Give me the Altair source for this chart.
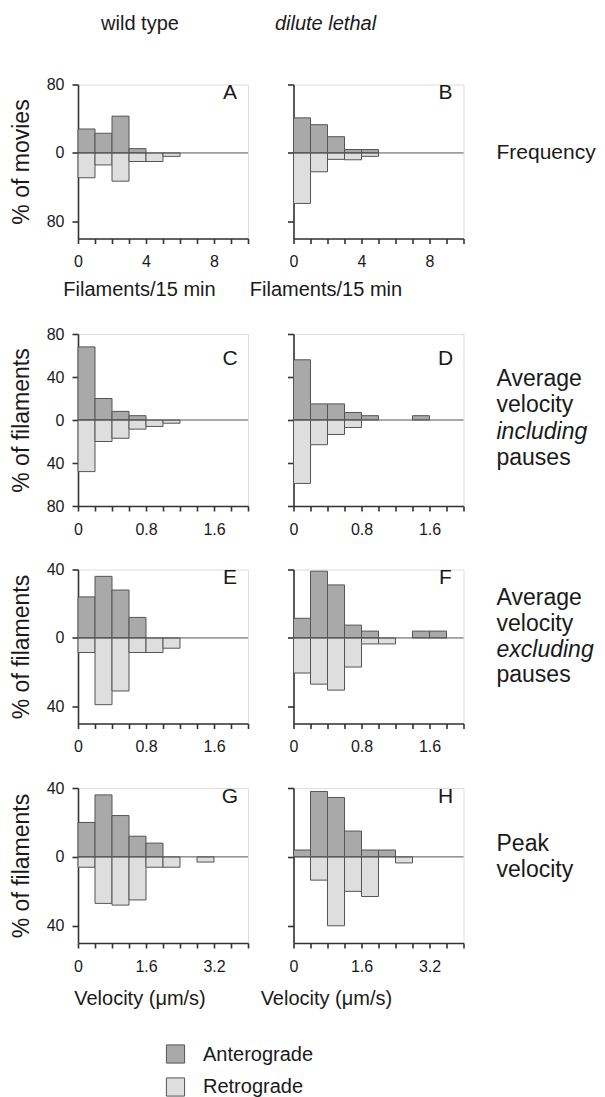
import altair as alt
import pandas as pd

# ---------------- data ----------------
freq_bins = [0, 1, 2, 3, 4, 5]
freq_width = 1
vel_bins = [0, 0.2, 0.4, 0.6, 0.8, 1.0, 1.2, 1.4, 1.6]
vel_width = 0.2
peak_bins = [0, 0.4, 0.8, 1.2, 1.6, 2.0, 2.4, 2.8]
peak_width = 0.4

# A: wild type, frequency
A_antero = [28, 23, 43, 5, 0, 0]
A_retro = [29, 14, 33, 10, 10, 4]
# B: dilute lethal, frequency
B_antero = [41, 33, 19, 4, 4, 0]
B_retro = [59, 22, 7.5, 8, 4, 0]
# C: wild type, average velocity including pauses
C_antero = [68, 20, 8, 4, 0, 0, 0, 0, 0]
C_retro = [48, 20, 17, 8.5, 6, 3, 0, 0, 0]
# D: dilute lethal, average velocity including pauses
D_antero = [56, 15, 15, 7, 4, 0, 0, 4, 0]
D_retro = [59, 23, 13.5, 7, 0, 0, 0, 0, 0]
# E: wild type, average velocity excluding pauses
E_antero = [24, 36, 28, 12, 0, 0, 0, 0, 0]
E_retro = [8.5, 39, 31, 8.5, 8.5, 6, 0, 0, 0]
# F: dilute lethal, average velocity excluding pauses
F_antero = [11.5, 39, 31, 7.5, 4, 0, 0, 4, 4]
F_retro = [20.5, 27, 30.5, 17, 3.5, 3.5, 0, 0, 0]
# G: wild type, peak velocity
G_antero = [20, 36, 24, 12, 8, 0, 0, 0]
G_retro = [6, 27, 28, 25, 6, 6, 0, 3]
# H: dilute lethal, peak velocity
H_antero = [4, 38, 34.5, 15, 4, 4, 0, 0]
H_retro = [0, 13.5, 40, 20, 23, 0, 3.5, 0]

directions = ["Anterograde", "Retrograde"]
colors = ["#a9a9a9", "#dedede"]

FONT = "Liberation Sans"
TXT = "#1a1a1a"
W = 170

color_scale = alt.Scale(domain=directions, range=colors)


def table(bins, width, antero, retro):
    rows = []
    for b, a, r in zip(bins, antero, retro):
        if a > 0:
            rows.append({"x0": b, "x1": b + width, "v": a, "z": 0, "dir": directions[0]})
        if r > 0:
            rows.append({"x0": b, "x1": b + width, "v": -r, "z": 0, "dir": directions[1]})
    return pd.DataFrame(rows)


def text_layer(txt, x, y, size, style="normal", align="left", baseline="alphabetic"):
    return alt.Chart(pd.DataFrame({"t": [txt]})).mark_text(
        fontSize=size, font=FONT, fontStyle=style, align=align,
        baseline=baseline, color=TXT,
    ).encode(x=alt.value(x), y=alt.value(y), text="t:N")


def legend_square(i, x, y):
    return alt.Chart(pd.DataFrame({"dir": [directions[i]]})).mark_square(
        size=330, stroke="#555", strokeWidth=1, opacity=1
    ).encode(
        x=alt.value(x), y=alt.value(y),
        color=alt.Color("dir:N", scale=color_scale, legend=None),
    )


def panel(df, letter, xdom, xticks, xlabexpr, ydom, yticks, ylabexpr, height,
          left, xtitle=None, xtitle_x=None, xtitle_pad=10, letter_y=14, extra=None):
    xaxis_kw = dict(values=xticks, labelExpr=xlabexpr, labelFlush=False)
    if xtitle:
        xaxis_kw.update(title=xtitle, titleX=xtitle_x, titlePadding=xtitle_pad)
    else:
        xaxis_kw.update(title=None)
    if left:
        yaxis = alt.Axis(values=yticks, labelExpr=ylabexpr, title=left)
    else:
        yaxis = alt.Axis(values=yticks, labels=False, title=None)
    bars = alt.Chart(df).mark_rect(stroke="#555", strokeWidth=1).encode(
        x=alt.X("x0:Q", scale=alt.Scale(domain=xdom, nice=False), axis=alt.Axis(**xaxis_kw)),
        x2="x1",
        y=alt.Y("v:Q", scale=alt.Scale(domain=ydom, nice=False), axis=yaxis),
        y2="z",
        color=alt.Color("dir:N", scale=color_scale, legend=None),
    )
    zero = alt.Chart(pd.DataFrame({"z": [0]})).mark_rule(color="#555", strokeWidth=1).encode(
        y=alt.Y("z:Q")
    )
    layers = [bars, zero, text_layer(letter, 152, letter_y, 21, align="center")]
    if extra:
        layers += extra
    return alt.layer(*layers).properties(width=W, height=height)


freq_ticks = [0, 1, 2, 3, 4, 5, 6, 7, 8, 9, 10]
freq_lab = "datum.value % 4 == 0 ? '' + datum.value : ''"
vel_ticks = [0, 0.2, 0.4, 0.6, 0.8, 1.0, 1.2, 1.4, 1.6, 1.8, 2.0]
vel_lab = "round(datum.value * 10) % 8 == 0 ? (datum.value == 0 ? '0' : format(datum.value, '.1f')) : ''"
peak_ticks = [0, 0.4, 0.8, 1.2, 1.6, 2.0, 2.4, 2.8, 3.2, 3.6, 4.0]
peak_lab = "round(datum.value * 10) % 16 == 0 ? (datum.value == 0 ? '0' : format(datum.value, '.1f')) : ''"
y80_ticks = [-80, -40, 0, 40, 80]
y80_lab = "'' + abs(datum.value)"
y40_ticks = [-40, -20, 0, 20, 40]
y40_lab = "datum.value % 40 == 0 ? '' + abs(datum.value) : ''"

RL = 203  # row label x relative to right panel
RS = 23   # row label font size
HS = 20   # column header font size

pA = panel(table(freq_bins, freq_width, A_antero, A_retro), "A", [0, 10], freq_ticks, freq_lab,
           [-100, 80], y80_ticks, y80_lab, 154, "% of movies",
           xtitle="Filaments/15 min", xtitle_x=61,
           extra=[text_layer("wild type", 62, -71, HS, align="center", baseline="top")])
pB = panel(table(freq_bins, freq_width, B_antero, B_retro), "B", [0, 10], freq_ticks, freq_lab,
           [-100, 80], y80_ticks, y80_lab, 154, None,
           xtitle="Filaments/15 min", xtitle_x=32,
           extra=[text_layer("dilute lethal", 32, -71, HS, style="italic", align="center", baseline="top"),
                  text_layer("Frequency", RL, 74, 21)])
pC = panel(table(vel_bins, vel_width, C_antero, C_retro), "C", [0, 2.0], vel_ticks, vel_lab,
           [-80, 80], y80_ticks, y80_lab, 172, "% of filaments", letter_y=31)
pD = panel(table(vel_bins, vel_width, D_antero, D_retro), "D", [0, 2.0], vel_ticks, vel_lab,
           [-80, 80], y80_ticks, y80_lab, 172, None, letter_y=31,
           extra=[text_layer("Average", RL, 52, RS), text_layer("velocity", RL, 78, RS),
                  text_layer("including", RL, 104.5, RS, style="italic"),
                  text_layer("pauses", RL, 130.5, RS)])
pE = panel(table(vel_bins, vel_width, E_antero, E_retro), "E", [0, 2.0], vel_ticks, vel_lab,
           [-50, 40], y40_ticks, y40_lab, 154, "% of filaments")
pF = panel(table(vel_bins, vel_width, F_antero, F_retro), "F", [0, 2.0], vel_ticks, vel_lab,
           [-50, 40], y40_ticks, y40_lab, 154, None,
           extra=[text_layer("Average", RL, 35.5, RS), text_layer("velocity", RL, 61.5, RS),
                  text_layer("excluding", RL, 87.5, RS, style="italic"),
                  text_layer("pauses", RL, 112.5, RS)])
pG = panel(table(peak_bins, peak_width, G_antero, G_retro), "G", [0, 4.0], peak_ticks, peak_lab,
           [-50, 40], y40_ticks, y40_lab, 155, "% of filaments",
           xtitle="Velocity (μm/s)", xtitle_x=61.5, xtitle_pad=14, letter_y=15,
           extra=[legend_square(0, 97.5, 266), legend_square(1, 97.5, 299),
                  text_layer(directions[0], 125, 273, HS),
                  text_layer(directions[1], 125, 305, HS)])
pH = panel(table(peak_bins, peak_width, H_antero, H_retro), "H", [0, 4.0], peak_ticks, peak_lab,
           [-50, 40], y40_ticks, y40_lab, 155, None,
           xtitle="Velocity (μm/s)", xtitle_x=32.4, xtitle_pad=14, letter_y=15,
           extra=[text_layer("Peak", RL, 63.3, RS), text_layer("velocity", RL, 89, RS)])


def row(a, b):
    return alt.hconcat(a, b, spacing=45.5, bounds="flush")


chart = alt.vconcat(
    row(pA, pB),
    alt.vconcat(
        row(pC, pD),
        alt.vconcat(row(pE, pF), row(pG, pH), spacing=23.5),
        spacing=22.5,
    ),
    spacing=24.5,
).properties(
    padding={"left": 1, "top": 4.5, "right": 0, "bottom": 0}
).resolve_scale(color="shared").configure_view(stroke=None).configure(
    font=FONT
).configure_axis(
    grid=False, domainColor="#333", domainWidth=1.6, tickColor="#333", tickWidth=1.6,
    labelFont=FONT, labelFontSize=16, labelColor=TXT,
    titleFont=FONT, titleFontWeight="normal", titleColor=TXT,
).configure_axisX(
    tickSize=5, labelPadding=10, titleFontSize=20,
).configure_axisY(
    tickSize=6, labelPadding=8, titleFontSize=23, titlePadding=13,
)

chart.save("out.html", embed_options={"renderer": "svg", "actions": False})
